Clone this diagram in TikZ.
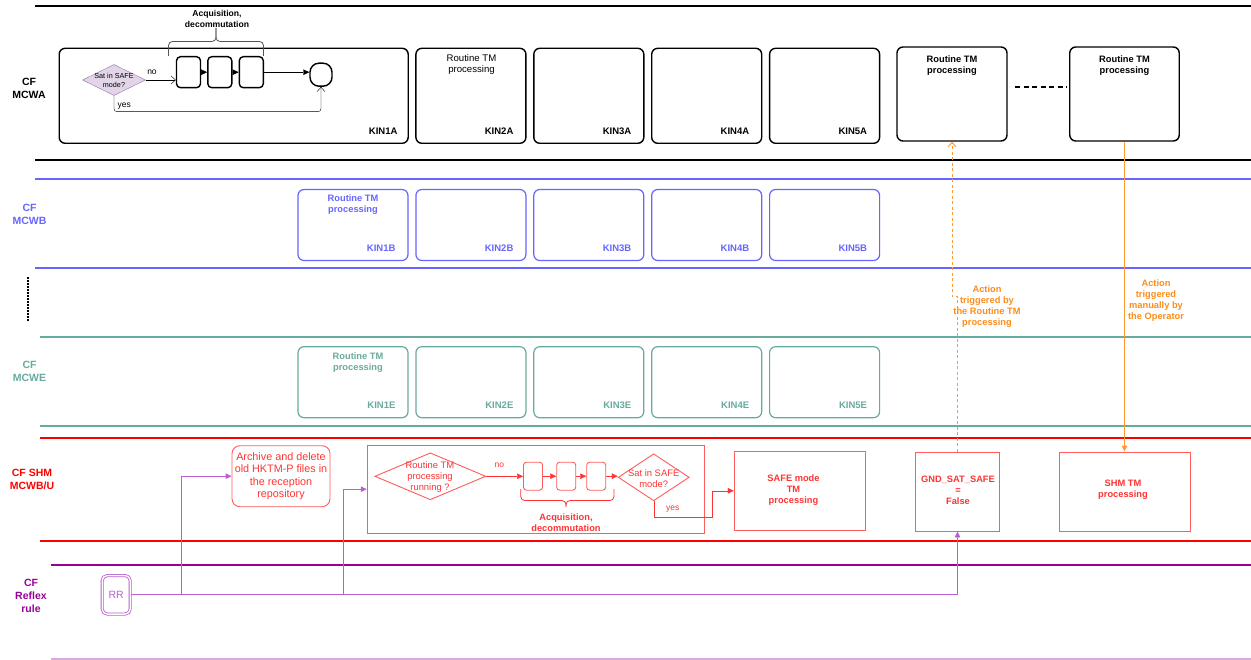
\documentclass[tikz,border=0pt]{standalone}
\usepackage{fontspec}
\setmainfont{Liberation Sans}
\usetikzlibrary{arrows.meta, shapes.geometric}
\definecolor{laneblue}{HTML}{6666FF}
\definecolor{laneteal}{HTML}{67AB9F}
\definecolor{lanered}{HTML}{FF0000}
\definecolor{boxred}{HTML}{FF5C5C}
\definecolor{txtred}{HTML}{FF3333}
\definecolor{lanepurple}{HTML}{990099}
\definecolor{lanelav}{HTML}{D9A6E6}
\definecolor{rrpurple}{HTML}{B95FD0}
\definecolor{actorange}{HTML}{FF9933}
\definecolor{acttext}{HTML}{FF8C1A}
\definecolor{diafill}{HTML}{E1D5E7}
\definecolor{diadraw}{HTML}{9673A6}
\definecolor{bracegray}{HTML}{555555}

\begin{document}
\begin{tikzpicture}[x=1pt, y=-1pt,
    lane/.style={line width=2pt},
    lanelbl/.style={font=\fontsize{10.5}{13}\selectfont\bfseries, align=center},
    kinbox/.style={draw, rounded corners=6pt, line width=1.4pt, minimum width=110pt, inner sep=0pt},
    kinlbl/.style={font=\fontsize{9.5}{11}\selectfont\bfseries, anchor=east},
    rtlbl/.style={font=\fontsize{9.3}{11}\selectfont\bfseries, align=center},
    smalltxt/.style={font=\fontsize{8.5}{10}\selectfont},
    redbox/.style={draw=boxred, line width=0.9pt, inner sep=0pt},
    redtxt/.style={text=txtred, font=\fontsize{9.3}{11}\selectfont\bfseries, align=center},
    arr/.style={-{Triangle[length=6pt, width=5.5pt]}},
    openarr/.style={-{Straight Barb[length=4.5pt, width=8pt]}},
]
        % Background
        \fill[white] (0,0) rectangle (1251,660);
        \useasboundingbox (0,0) rectangle (1251,660);

        % Lanes
        \draw[lane, line width=2.6pt] (35,6) -- (1251,6);
        \draw[lane, line width=1.8pt] (35,160) -- (1251,160);
        \draw[lane, laneblue] (35,179.5) -- (1251,179.5);
        \draw[lane, laneblue] (35,268.5) -- (1251,268.5);
        \draw[line width=2pt, dash pattern=on 1.6pt off 1.4pt] (27.5,277) -- (27.5,321);
        \draw[lane, laneteal] (40,337) -- (1251,337);
        \draw[lane, laneteal] (40,425.5) -- (1251,425.5);
        \draw[lane, lanered] (40,438) -- (1251,438);
        \draw[lane, lanered] (40,540.5) -- (1251,540.5);
        \draw[lane, lanepurple] (51,564.5) -- (1251,564.5);
        \draw[lanelav, line width=1.2pt] (51,659) -- (1251,659);

        \node[lanelbl] (cfa) at (29,88.5) {CF\\MCWA};
        \node[lanelbl, text=laneblue] (cfb) at (29.5,214) {CF\\MCWB};
        \node[lanelbl, text=laneteal] (cfe) at (29.5,371) {CF\\MCWE};
        \node[lanelbl, text=lanered] (cfs) at (32,479) {CF SHM\\MCWB/U};
        \node[lanelbl, text=lanepurple] (cfr) at (31,595.5) {CF\\Reflex\\rule};

        % CF MCWA
        \node[kinbox, minimum width=349pt, minimum height=95pt] (kin1a) at (233.7,95.8) {};
        \node[kinlbl] (l1a) at (401,131) {KIN1A};
        \foreach \i/\x in {2/470.9, 3/588.8, 4/706.7, 5/824.6} {
            \node[kinbox, minimum height=95pt] (kin\i a) at (\x,95.8) {};
            \node[kinlbl] (l\i a) at (\x+46,131) {KIN\i A};
        }
        \node[font=\fontsize{9.6}{11}\selectfont, align=center] (rt2a) at (471.5,64.5) {Routine TM\\processing};

        \node[kinbox, minimum height=94pt] (rta1) at (952,94) {};
        \node[rtlbl] (trta1) at (952,65.5) {Routine TM\\processing};
        \node[kinbox, minimum width=109.5pt, minimum height=94pt] (rta2) at (1124.5,94) {};
        \node[rtlbl] (trta2) at (1124.5,65.5) {Routine TM\\processing};
        \coordinate (dl) at (1015,87);
        \coordinate (dr) at (1067,87);
        \draw[line width=1.3pt, dash pattern=on 5pt off 3.5pt] (dl) -- (dr);

        % Flow inside KIN1A
        \node[diamond, draw=diadraw, fill=diafill, minimum width=63pt, minimum height=31pt, inner sep=0pt] (dsafea) at (114,80) {};
        \node[font=\fontsize{7.2}{9.5}\selectfont, align=center] (tsafea) at (114,80.5) {Sat in SAFE\\mode?};
        \foreach \i/\x in {1/188.5, 2/219.8, 3/251.3}
            \node[draw, rounded corners=4pt, line width=1.4pt, minimum width=24pt, minimum height=31pt, inner sep=0pt] (qa\i) at (\x,72.2) {};
        \node[draw, rounded corners=9pt, line width=1.4pt, minimum width=22pt, minimum height=23pt, inner sep=0pt] (enda) at (321,74.7) {};
        \draw[openarr] (dsafea.east) -- (dsafea.east -| qa1.west);
        \node[smalltxt] (noa) at (152,72.5) {no};
        \draw[arr] (qa1.east) -- (qa2.west);
        \draw[arr] (qa2.east) -- (qa3.west);
        \draw[arr] (qa3.east) -- (qa3.east -| enda.west);
        \draw[openarr, rounded corners=3pt] (dsafea.south) |- (321,111.7) -- (enda.south);
        \node[smalltxt, anchor=west] (yesa) at (114,106) {yes};
        \draw[bracegray, line width=0.8pt, rounded corners=4pt] (168.5,56) -- (168.5,41.5) -- (216,41.5) -- (216,28);
        \draw[bracegray, line width=0.8pt, rounded corners=4pt] (263.5,56) -- (263.5,41.5) -- (216,41.5) -- (216,28);
        \node[font=\fontsize{8.6}{11}\selectfont\bfseries, align=center] (acqa) at (217,18.5) {Acquisition,\\decommutation};

        % CF MCWB
        \foreach \i/\x in {1/353, 2/470.9, 3/588.8, 4/706.7, 5/824.6} {
            \node[kinbox, draw=laneblue, line width=1.2pt, minimum height=71pt] (kin\i b) at (\x,225) {};
            \node[kinlbl, text=laneblue] (l\i b) at (\x+46,248) {KIN\i B};
        }
        \node[rtlbl, text=laneblue] (rt1b) at (353,205) {Routine TM\\processing};

        % CF MCWE
        \foreach \i/\x in {1/353, 2/470.9, 3/588.8, 4/706.7, 5/824.6} {
            \node[kinbox, draw=laneteal, line width=1.2pt, minimum height=71pt] (kin\i e) at (\x,382.2) {};
            \node[kinlbl, text=laneteal] (l\i e) at (\x+46,405) {KIN\i E};
        }
        \node[rtlbl, text=laneteal] (rt1e) at (358,362.5) {Routine TM\\processing};

        % CF SHM
        \node[redbox, rounded corners=8pt, minimum width=98pt, minimum height=61pt, text=txtred, font=\fontsize{10.8}{12.4}\selectfont, align=center] (arch) at (281,476.2) {Archive and delete\\old HKTM-P files in\\the reception\\repository};
        \node[redbox, minimum width=337pt, minimum height=88pt] (rtproc) at (535.7,489.2) {};
        \node[diamond, draw=boxred, line width=0.9pt, minimum width=111pt, minimum height=47pt, inner sep=0pt] (drun) at (430.3,476.3) {};
        \node[text=txtred, font=\fontsize{9.4}{11.2}\selectfont, align=center] (trun) at (430,476.8) {Routine TM\\processing\\running ?};
        \node[smalltxt, text=txtred] (nos) at (499.3,465) {no};
        \foreach \i/\x in {1/533, 2/566.2, 3/596.2}
            \node[redbox, rounded corners=3pt, minimum width=19pt, minimum height=28pt] (qs\i) at (\x,476.2) {};
        \node[diamond, draw=boxred, line width=0.9pt, minimum width=71pt, minimum height=47pt, inner sep=0pt] (dsafes) at (653.7,477.3) {};
        \node[text=txtred, font=\fontsize{9.4}{11.3}\selectfont, align=center] (tsafes) at (653.7,478.3) {Sat in SAFE\\mode?};
        \draw[arr, txtred] (drun.east) -- (drun.east -| qs1.west);
        \draw[arr, txtred] (qs1.east) -- (qs2.west);
        \draw[arr, txtred] (qs2.east) -- (qs3.west);
        \draw[arr, txtred] (qs3.east) -- (qs3.east -| dsafes.west);
        \draw[txtred, line width=0.8pt, rounded corners=4pt] (520.7,489) -- (520.7,500.5) -- (566,500.5) -- (566,506.5);
        \draw[txtred, line width=0.8pt, rounded corners=4pt] (614,489) -- (614,500.5) -- (566,500.5) -- (566,506.5);
        \node[redtxt] (acqs) at (566,522.5) {Acquisition,\\decommutation};

        \node[redbox, minimum width=131.4pt, minimum height=79.6pt] (safe) at (799.9,490.8) {};
        \node[redtxt] (tsafe) at (793.5,490.3) {SAFE mode\\TM\\processing};
        \draw[arr, txtred] (dsafes.south) |- (711.7,516.7) |- (safe.west);
        \node[smalltxt, text=txtred] (yess) at (672.7,509) {yes};

        \node[redbox, minimum width=83.7pt, minimum height=79pt] (gnd) at (957.5,491.5) {};
        \node[redtxt] (tgnd) at (958,490.3) {GND\_SAT\_SAFE\\=\\False};
        \node[redbox, minimum width=131.4pt, minimum height=79pt] (shmtm) at (1125,491.5) {};
        \node[redtxt] (tshm) at (1123,489.8) {SHM TM\\processing};

        % Actions
        \draw[actorange, line width=0.9pt, dash pattern=on 3pt off 2.5pt, openarr] (gnd.north) -- ++(0,-155) -| (rta1.south);
        \node[text=acttext, font=\fontsize{9.3}{10.9}\selectfont\bfseries, align=center] (act1) at (987,306.5) {Action\\triggered by\\the Routine TM\\processing};
        \draw[actorange, line width=0.9pt, arr] (rta2.south) -- (rta2.south |- shmtm.north);
        \node[text=acttext, font=\fontsize{9.3}{10.9}\selectfont\bfseries, align=center] (act2) at (1156,300.5) {Action\\triggered\\manually by\\the Operator};

        % CF Reflex rule
        \node[draw=rrpurple, double, double distance=1.4pt, line width=0.8pt, rounded corners=5pt, minimum width=28pt, minimum height=38.5pt, inner sep=0pt, text=rrpurple, font=\fontsize{10.5}{12}\selectfont] (rr) at (116.2,594.8) {RR};
        \coordinate (br1) at (181.7,594.8);
        \coordinate (br2) at (343.3,594.8);
        \draw[rrpurple, line width=0.9pt, arr] (rr.east) -| (gnd.south);
        \draw[rrpurple, line width=0.9pt, arr] (br1) |- (arch.west);
        \draw[rrpurple, line width=0.9pt, arr] (br2) |- (rtproc.west);

\end{tikzpicture}
\end{document}
